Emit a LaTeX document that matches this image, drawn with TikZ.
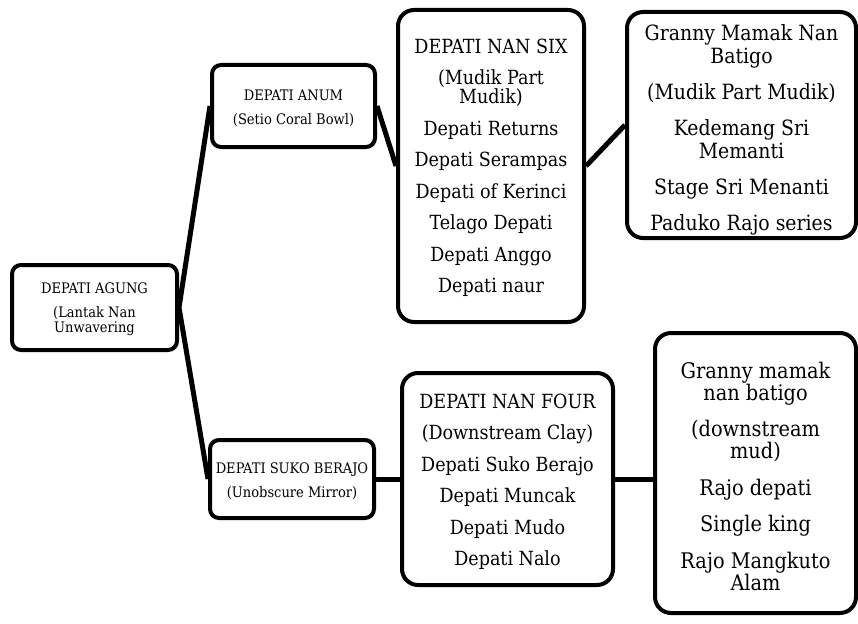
\documentclass[tikz,border=0pt]{standalone}
\usepackage{fontspec}
\setmainfont{DejaVu Serif Condensed}
\newcommand\smallfnt{\fontsize{14.5}{15}\selectfont\lineskiplimit=-50pt\relax}
\newcommand\dfnt{\fontsize{19.5}{19}\selectfont\lineskiplimit=-50pt\relax}
\newcommand\efnt{\fontsize{21}{23}\selectfont\lineskiplimit=-50pt\relax}
\newcommand\ffnt{\fontsize{19.5}{19}\selectfont\lineskiplimit=-50pt\relax}
\newcommand\gfnt{\fontsize{21.5}{22}\selectfont\lineskiplimit=-50pt\relax}
\begin{document}
\begin{tikzpicture}[x=1pt,y=-1pt,
  rbox/.style={draw=black, line width=4pt, rounded corners=#1, fill=white, inner sep=0pt},
  txt/.style={align=center, inner sep=0pt, anchor=north},
  conn/.style={line width=5pt, draw=black}]
\useasboundingbox (0,0) rectangle (858,623);
% boxes
\node[rbox=9pt,  minimum width=165pt, minimum height=85pt]  (A) at (94.5,307.5) {};
\node[rbox=9pt,  minimum width=163pt, minimum height=82pt]  (B) at (293.5,106) {};
\node[rbox=9pt,  minimum width=164pt, minimum height=78pt]  (C) at (292,479) {};
\node[rbox=16pt, minimum width=186pt, minimum height=312pt] (D) at (491,166) {};
\node[rbox=16pt, minimum width=229pt, minimum height=226pt] (E) at (741.5,125) {};
\node[rbox=16pt, minimum width=211pt, minimum height=212pt] (F) at (507.5,479) {};
\node[rbox=16pt, minimum width=201pt, minimum height=280pt] (G) at (755.5,473) {};
% connectors
\draw[conn] (B.west) -- (A.east) -- (C.west);
\draw[conn] (B.east) -- (D.west);
\draw[conn] (D.east) -- (E.west);
\draw[conn] (C.east) -- (F.west);
\draw[conn] (F.east) -- (F.east -| G.west);
% texts
\node[txt, font=\smallfnt] (At) at (94.5,282.4) {DEPATI AGUNG\\[9pt](Lantak Nan\\Unwavering};
\node[txt, font=\smallfnt] (Bt) at (293.5,89.4) {DEPATI ANUM\\[9pt](Setio Coral Bowl)};
\node[txt, font=\smallfnt] (Ct) at (292,462.4) {DEPATI SUKO BERAJO\\[9pt](Unobscure Mirror)};
\node[txt, font=\dfnt] (Dt) at (491,38.5) {DEPATI NAN SIX\\[12.5pt](Mudik Part\\Mudik)\\[12.5pt]Depati Returns\\[12.5pt]Depati Serampas\\[12.5pt]Depati of Kerinci\\[12.5pt]Telago Depati\\[12.5pt]Depati Anggo\\[12.5pt]Depati naur};
\node[txt, font=\efnt] (Et) at (741.5,24) {Granny Mamak Nan\\Batigo\\[13pt](Mudik Part Mudik)\\[13pt]Kedemang Sri\\Memanti\\[13pt]Stage Sri Menanti\\[13pt]Paduko Rajo series};
\node[txt, font=\ffnt] (Ft) at (507.5,393.8) {DEPATI NAN FOUR\\[12.4pt](Downstream Clay)\\[12.4pt]Depati Suko Berajo\\[12.4pt]Depati Muncak\\[12.4pt]Depati Mudo\\[12.4pt]Depati Nalo};
\node[txt, font=\gfnt] (Gt) at (755.5,361.7) {Granny mamak\\nan batigo\\[14.5pt](downstream\\mud)\\[14.5pt]Rajo depati\\[14.5pt]Single king\\[14.5pt]Rajo Mangkuto\\Alam};
\end{tikzpicture}
\end{document}
